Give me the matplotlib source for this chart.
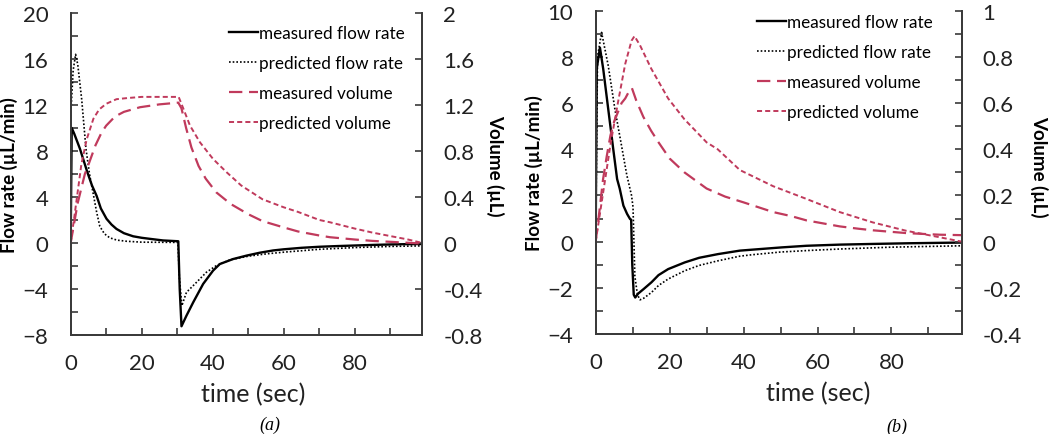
import numpy as np
import matplotlib.pyplot as plt
from matplotlib.ticker import MultipleLocator

plt.rcParams['font.family'] = ['Lato', 'DejaVu Sans']

RED = '#c03a5c'
AXC = '#3a3a3a'

# ---- panel (a) data ----
a_mflow_t = [0, 0.3, 1, 2.6, 4.7, 6, 7.3, 8.5, 10.1, 11.5, 12.9, 15, 17.6, 20, 22.3, 26, 30.3,
             30.7, 31.2, 32.6, 34.5, 37.3, 40.1, 42, 45.7, 49.5, 53.2, 57, 60, 65, 70, 75, 80, 85, 90, 95, 99]
a_mflow_v = [0, 10, 9.5, 8.2, 6.15, 5.0, 4.1, 3.0, 2.1, 1.6, 1.22, 0.85, 0.58, 0.45, 0.36, 0.22, 0.15,
             -4.0, -7.24, -6.32, -5.16, -3.56, -2.4, -1.83, -1.4, -1.1, -0.85, -0.65, -0.55, -0.42, -0.33, -0.27, -0.22, -0.17, -0.13, -0.1, -0.09]

a_pflow_t = [0, 0.7, 1.4, 2, 3.1, 4.3, 5.3, 6.4, 7.3, 8.2, 9.5, 11, 13, 15.7, 20, 30.2,
             30.6, 31.3, 32.6, 34.5, 38.2, 41, 45, 50, 55, 60, 70, 80, 90, 99]
a_pflow_v = [11, 15, 16.4, 15.5, 12.5, 8.2, 6.0, 4.2, 2.7, 1.45, 0.8, 0.45, 0.25, 0.15, 0.07, 0.05,
             -3.0, -5.45, -4.29, -3.71, -2.55, -1.97, -1.45, -1.15, -0.95, -0.8, -0.55, -0.4, -0.3, -0.25]

a_mvol_t = [0, 2, 4, 5, 7, 8.7, 10, 12.5, 15, 19.5, 25, 30.3,
            31.2, 32.5, 34, 36, 38, 41, 45, 50, 54, 60, 64, 70, 73, 80, 85, 90, 99]
a_mvol_v = [0, 0.35, 0.6, 0.68, 0.85, 0.96, 1.02, 1.10, 1.14, 1.18, 1.205, 1.22,
            1.17, 1.0, 0.83, 0.67, 0.56, 0.44, 0.34, 0.25, 0.19, 0.135, 0.10, 0.065, 0.05, 0.03, 0.018, 0.01, -0.005]

a_pvol_t = [0, 1, 2, 3, 4.5, 6.4, 8, 9.2, 10, 12.9, 16, 20, 30.4,
            31.7, 33.6, 36.4, 40.1, 43.9, 48, 54, 60, 64, 70, 73, 80, 85, 90, 95, 99]
a_pvol_v = [0, 0.22, 0.45, 0.68, 0.90, 1.08, 1.16, 1.19, 1.21, 1.25, 1.26, 1.27, 1.27,
            1.17, 1.02, 0.875, 0.73, 0.615, 0.5, 0.38, 0.31, 0.27, 0.2, 0.18, 0.125, 0.09, 0.06, 0.03, 0.0]

# ---- panel (b) data ----
b_mflow_t = [0, 0.3, 1.16, 2.05, 3.4, 4.76, 5.8, 6.5, 7.5, 8.5, 9.3, 9.6, 9.9, 10.3, 10.7, 11.5, 13, 15.1, 17,
             19.6, 24.1, 28, 33.1, 39, 42.2, 50.3, 57, 66, 75, 85, 99]
b_mflow_v = [0, 7.5, 8.4, 7.47, 5.74, 4.0, 2.71, 2.3, 1.56, 1.2, 0.98, 0.95, -1.0, -2.3, -2.42, -2.25, -2.05, -1.76, -1.45,
             -1.19, -0.9, -0.7, -0.54, -0.39, -0.35, -0.25, -0.18, -0.13, -0.1, -0.07, -0.04]

b_pflow_t = [0, 0.5, 1.6, 2.3, 3.4, 5.2, 7.0, 8.4, 9.7, 10.1, 10.6, 11.3, 12, 13, 15.1, 17, 19.6, 24.1, 28,
             33.1, 39, 42.2, 50, 58, 66, 80, 99]
b_pflow_v = [0, 8.0, 9.06, 8.5, 7.62, 5.74, 4.15, 2.9, 2.0, 1.5, -1.5, -2.3, -2.52, -2.45, -2.2, -1.9, -1.62, -1.26, -1.03,
             -0.83, -0.63, -0.57, -0.45, -0.38, -0.32, -0.24, -0.18]

b_mvol_t = [0, 1, 2, 3, 4, 5, 6, 7, 8, 9, 9.8, 11, 12.9, 15, 17, 20, 24, 30, 35, 40, 48, 53, 57, 66, 71, 75, 84, 89, 93, 99]
b_mvol_v = [0, 0.13, 0.27, 0.37, 0.46, 0.52, 0.56, 0.60, 0.62, 0.65, 0.665, 0.61, 0.54, 0.48, 0.43, 0.36, 0.30, 0.23,
            0.195, 0.17, 0.128, 0.11, 0.092, 0.066, 0.056, 0.049, 0.037, 0.033, 0.03, 0.028]

b_pvol_t = [0, 2, 4, 6, 8, 9.7, 10.5, 12, 15, 19.6, 24, 30, 33, 39, 48, 57, 66, 75, 84, 93, 99]
b_pvol_v = [0, 0.21, 0.42, 0.60, 0.77, 0.87, 0.89, 0.85, 0.75, 0.62, 0.53, 0.43, 0.40, 0.31, 0.24, 0.185, 0.128,
            0.083, 0.047, 0.019, 0.0]

labels = ['measured flow rate', 'predicted flow rate', 'measured volume', 'predicted volume']

fig = plt.figure(figsize=(10.5, 4.35), dpi=100)


def panel(rect, flows, vols, ylim, ymaj, ymin, vmin_step, xlab_x, ylab_l, ylab_r, leg_anchor):
    ax = fig.add_axes(rect)
    ax2 = ax.twinx()
    l1, = ax.plot(flows[0][0], flows[0][1], color='black', lw=1.7)
    l2, = ax.plot(flows[1][0], flows[1][1], color='black', lw=1.2, ls=(0, (1, 1.2)))
    l3, = ax2.plot(vols[0][0], vols[0][1], color=RED, lw=1.6, ls=(0, (6, 3)))
    l4, = ax2.plot(vols[1][0], vols[1][1], color=RED, lw=1.4, ls=(0, (2.6, 1.6)))
    ax.set_xlim(0, 99)
    ax.set_ylim(*ylim)
    ax2.set_ylim(ylim[0] / 10, ylim[1] / 10)
    ax.xaxis.set_major_locator(MultipleLocator(20))
    ax.xaxis.set_minor_locator(MultipleLocator(10))
    ax.yaxis.set_major_locator(MultipleLocator(ymaj))
    ax.yaxis.set_minor_locator(MultipleLocator(ymin))
    ax2.yaxis.set_major_locator(MultipleLocator(ymaj / 10))
    ax2.yaxis.set_minor_locator(MultipleLocator(vmin_step))
    ax2.yaxis.set_major_formatter(plt.FuncFormatter(lambda v, p: ('%g' % round(v, 2))))
    for a in (ax, ax2):
        a.spines['top'].set_visible(False)
        for s in a.spines.values():
            s.set_color(AXC)
            s.set_linewidth(1.3)
        a.tick_params(which='both', direction='in', color=AXC, width=1.2, labelsize=16,
                      labelcolor='#222222')
        a.tick_params(which='major', length=5)
        a.tick_params(which='minor', length=5)
    ax.tick_params(axis='x', pad=13)
    ax.tick_params(axis='y', pad=16)
    ax2.tick_params(axis='y', pad=15)
    ax.set_xlabel('time (sec)', fontsize=18, color='#222222')
    ax.xaxis.set_label_coords(xlab_x, -0.145)
    ax.set_ylabel('Flow rate (µL/min)', fontsize=13.5, fontweight='bold')
    ax.yaxis.set_label_coords(*ylab_l)
    ax2.set_ylabel('Volume (µL)', fontsize=13.5, fontweight='bold', rotation=270, va='center')
    ax2.yaxis.set_label_coords(*ylab_r)
    ax2.legend([l1, l2, l3, l4], labels, loc='upper right', bbox_to_anchor=leg_anchor,
               frameon=False, fontsize=12.3, handlelength=1.7, handletextpad=0.05,
               labelspacing=0.82, borderaxespad=0)
    return ax


panel([0.0673, 0.2276, 0.3349, 0.7404],
      [(a_mflow_t, a_mflow_v), (a_pflow_t, a_pflow_v)],
      [(a_mvol_t, a_mvol_v), (a_pvol_t, a_pvol_v)],
      (-8, 20), 4, 2, 0.4, 0.518, (-0.15, 0.5), (1.207, 0.528), (0.97, 0.985))

panel([0.5673, 0.2299, 0.3486, 0.7432],
      [(b_mflow_t, b_mflow_v), (b_pflow_t, b_pflow_v)],
      [(b_mvol_t, b_mvol_v), (b_pvol_t, b_pvol_v)],
      (-4, 10), 2, 1, 0.1, 0.607, (-0.144, 0.5), (1.212, 0.52), (0.94, 1.01))

fig.text(0.257, 0.023, '(a)', fontsize=13, style='italic', family='Liberation Serif',
         ha='center', va='center')
fig.text(0.854, 0.018, '(b)', fontsize=13, style='italic', family='Liberation Serif',
         ha='center', va='center')

fig.savefig('out.png', dpi=100)
